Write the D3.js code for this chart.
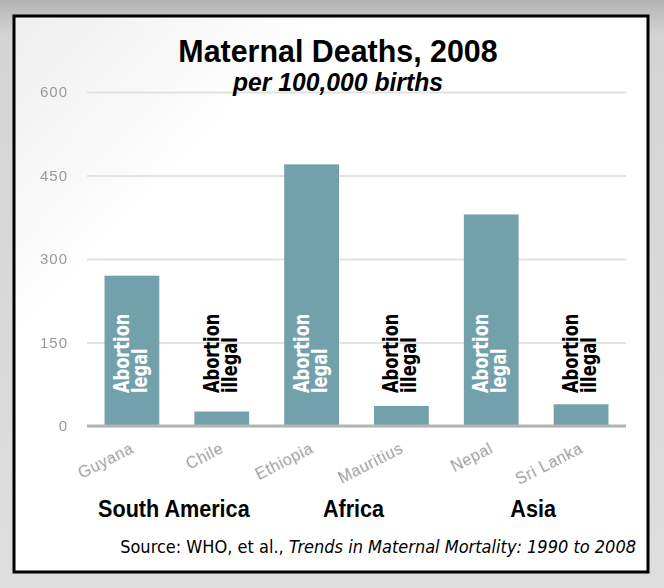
<!DOCTYPE html>
<html>
<head>
<meta charset="utf-8">
<script src="https://cdn.jsdelivr.net/npm/d3@7"></script>
<style>
    html, body { margin: 0; padding: 0; background: #dcdcdc; }
    svg { display: block; }
    .axis text { font-family: "Liberation Sans", Arial, sans-serif; fill: #999; }
    .bar-label { font-family: "DejaVu Sans Condensed", "Liberation Sans Narrow", sans-serif; font-weight: bold; }
</style>
</head>
<body>
<div id="chart"></div>
<script>
// data
var countries = ["Guyana", "Chile", "Ethiopia", "Mauritius", "Nepal", "Sri Lanka"];
var deaths = [270, 26, 470, 36, 380, 39];
var abortion = ["legal", "illegal", "legal", "illegal", "legal", "illegal"];
var regions = ["South America", "Africa", "Asia"];
var yTicks = [0, 150, 300, 450, 600];

var W = 664, H = 588;
var margin = { top: 92, right: 38, bottom: 162, left: 87 };
var width = W - margin.left - margin.right;
var height = H - margin.top - margin.bottom;

var svg = d3.select("#chart").append("svg")
    .attr("width", W)
    .attr("height", H);

// gradients for the grey page and the slightly shaded card
var defs = svg.append("defs");
var bgGrad = defs.append("linearGradient").attr("id", "bg").attr("x1", 0).attr("y1", 0).attr("x2", 0).attr("y2", 1);
bgGrad.append("stop").attr("offset", "0%").attr("stop-color", "#b4b4b4");
bgGrad.append("stop").attr("offset", "6%").attr("stop-color", "#d4d4d4");
bgGrad.append("stop").attr("offset", "100%").attr("stop-color", "#dedede");

var cardGrad = defs.append("linearGradient").attr("id", "card").attr("x1", 0).attr("y1", 0).attr("x2", 0.3).attr("y2", 0.25);
cardGrad.append("stop").attr("offset", "0%").attr("stop-color", "#eeeeee");
cardGrad.append("stop").attr("offset", "100%").attr("stop-color", "#ffffff");

defs.append("filter").attr("id", "soft")
    .append("feGaussianBlur").attr("stdDeviation", 0.45);

svg.append("rect")
    .attr("width", W).attr("height", H)
    .attr("fill", "url(#bg)");

svg.append("rect")
    .attr("x", 14).attr("y", 16)
    .attr("width", 634).attr("height", 556)
    .attr("fill", "url(#card)")
    .attr("stroke", "#000")
    .attr("stroke-width", 3);

var g = svg.append("g")
    .attr("transform", "translate(" + margin.left + "," + margin.top + ")");

// scales
var x = d3.scaleBand()
    .domain(countries)
    .range([0, width])
    .paddingInner(0.39)
    .paddingOuter(0.195);

var y = d3.scaleLinear()
    .domain([0, 600])
    .range([height, 0]);

// y axis with gridlines
var yAxis = d3.axisLeft(y)
    .tickValues(yTicks)
    .tickSize(-width)
    .tickPadding(19);

g.append("g")
    .attr("class", "y-axis axis")
    .call(yAxis)
    .call(function(sel) {
        sel.select(".domain").remove();
        sel.selectAll(".tick line")
            .attr("stroke", "#e2e2e2")
            .attr("stroke-width", 2);
        sel.selectAll(".tick text")
            .attr("font-size", 15)
            .attr("letter-spacing", 1)
            .attr("filter", "url(#soft)");
    });

// bars
g.selectAll(".bar")
    .data(countries)
    .enter().append("rect")
    .attr("class", "bar")
    .attr("x", function(d) { return x(d); })
    .attr("width", x.bandwidth())
    .attr("y", function(d, i) { return y(deaths[i]); })
    .attr("height", function(d, i) { return height - y(deaths[i]); })
    .attr("fill", "#72a0ab");

// baseline
g.append("line")
    .attr("x1", 0).attr("x2", width)
    .attr("y1", y(0)).attr("y2", y(0))
    .attr("stroke", "#b3b3b3")
    .attr("stroke-width", 3);

// x axis, slanted country names
var xAxis = d3.axisBottom(x).tickSize(0);

g.append("g")
    .attr("class", "x-axis axis")
    .attr("transform", "translate(0," + height + ")")
    .call(xAxis)
    .call(function(sel) {
        sel.select(".domain").remove();
        sel.selectAll(".tick text")
            .attr("x", 0).attr("y", 0).attr("dy", 0)
            .attr("text-anchor", "end")
            .attr("font-size", 16)
            .attr("letter-spacing", 0.6)
            .attr("filter", "url(#soft)")
            .attr("transform", "translate(3,26) rotate(-27)");
    });

// "Abortion legal / illegal" labels, written bottom to top, squeezed to look condensed
var labels = g.selectAll(".bar-label")
    .data(countries)
    .enter().append("text")
    .attr("class", "bar-label")
    .attr("font-size", 22)
    .attr("fill", function(d, i) { return abortion[i] === "legal" ? "#fff" : "#000"; })
    .attr("transform", function(d) {
        return "translate(" + (x(d) + x.bandwidth() / 2) + "," + (y(0) - 33) + ") rotate(-90) scale(0.82,1)";
    });

labels.append("tspan")
    .attr("x", 0).attr("y", -3)
    .text("Abortion");

labels.append("tspan")
    .attr("x", 0).attr("y", 15)
    .text(function(d, i) { return abortion[i]; });

// region names under each pair of countries
g.selectAll(".region")
    .data(regions)
    .enter().append("text")
    .attr("class", "region")
    .attr("transform", function(d, i) {
        var a = x(countries[2 * i]) + x.bandwidth() / 2;
        var b = x(countries[2 * i + 1]) + x.bandwidth() / 2;
        return "translate(" + ((a + b) / 2 - 3) + "," + (height + 91) + ") scale(0.9,1)";
    })
    .attr("text-anchor", "middle")
    .attr("font-family", "'Liberation Sans', Arial, sans-serif")
    .attr("font-weight", "bold")
    .attr("font-size", 24)
    .attr("fill", "#000")
    .text(function(d) { return d; });

// title
svg.append("text")
    .attr("transform", "translate(338,62) scale(0.95,1)")
    .attr("text-anchor", "middle")
    .attr("font-family", "'Liberation Sans', Arial, sans-serif")
    .attr("font-weight", "bold")
    .attr("font-size", 32)
    .attr("fill", "#000")
    .text("Maternal Deaths, 2008");

svg.append("text")
    .attr("transform", "translate(338,91) scale(0.95,1)")
    .attr("text-anchor", "middle")
    .attr("font-family", "'Liberation Sans', Arial, sans-serif")
    .attr("font-weight", "bold")
    .attr("font-style", "italic")
    .attr("font-size", 26)
    .attr("fill", "#000")
    .text("per 100,000 births");

// source line
var source = svg.append("text")
    .attr("x", 636)
    .attr("y", 553)
    .attr("text-anchor", "end")
    .attr("font-family", "'DejaVu Sans Condensed', 'Liberation Sans Narrow', sans-serif")
    .attr("font-size", 18)
    .attr("fill", "#000");

source.append("tspan").text("Source: WHO, et al., ");
source.append("tspan").attr("font-style", "italic").text("Trends in Maternal Mortality: 1990 to 2008");
</script>
</body>
</html>
